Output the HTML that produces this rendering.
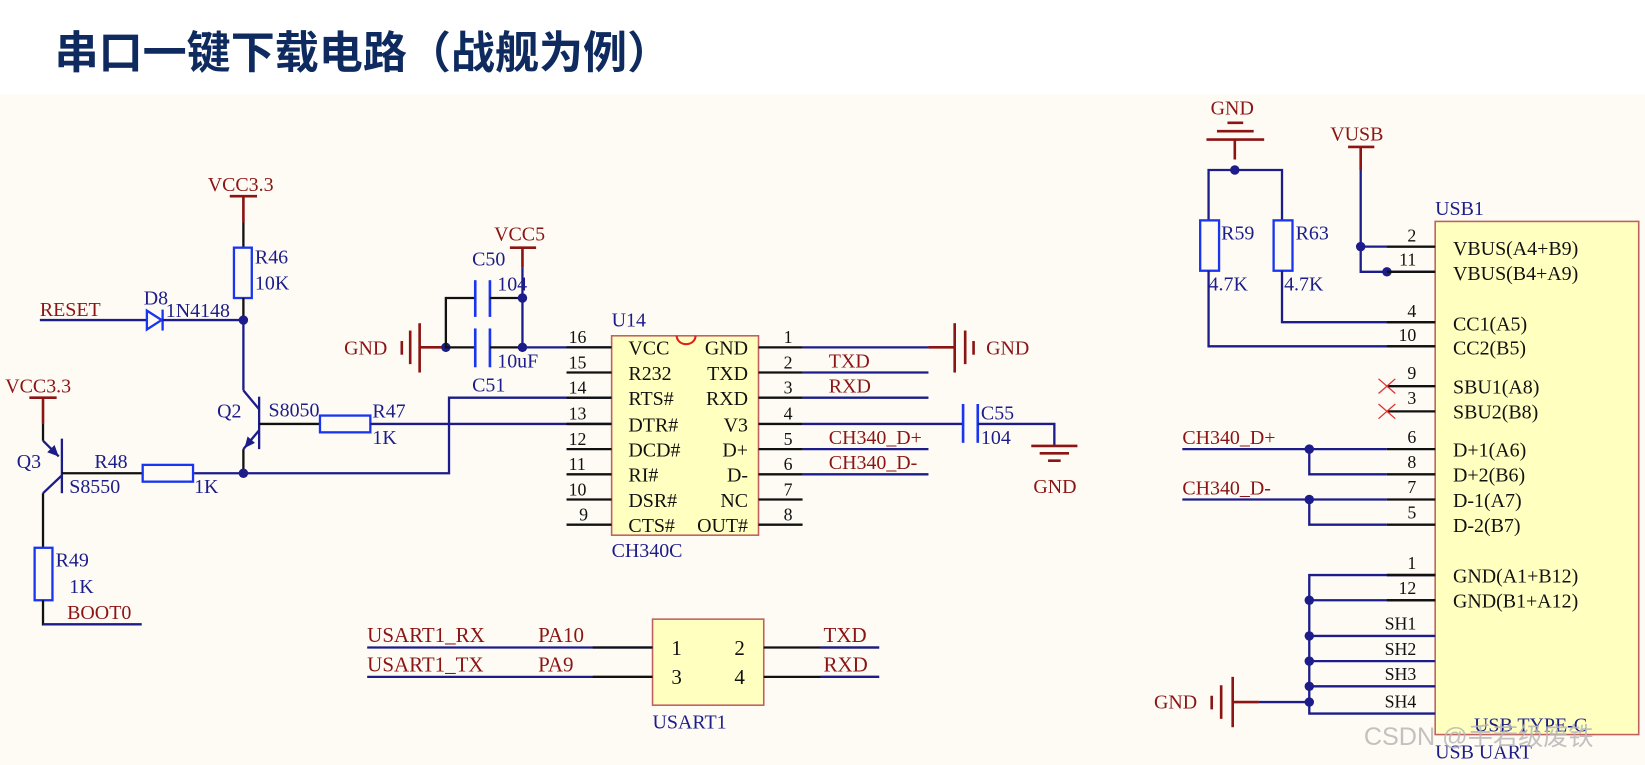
<!DOCTYPE html>
<html><head><meta charset="utf-8"><style>
html,body{margin:0;padding:0;background:#fff;}
svg{display:block}
text{font-family:"Liberation Serif",serif;}
.n{fill:#1c1c8a;font-size:19px}
.r{fill:#8b1414;font-size:19px}
.k{fill:#111;font-size:19px}
.p{fill:#111;font-size:17px}
.w{stroke:#1c1c8a;stroke-width:2.2;fill:none}
.b{stroke:#111;stroke-width:2.2;fill:none}
.rd{stroke:#8b1414;stroke-width:2.5;fill:none}
.res{stroke:#1a35f0;stroke-width:2.2;fill:none}
.cap{stroke:#1a35f0;stroke-width:2.5}
.dot{fill:#1c1c8a}
</style></head><body>
<svg width="1645" height="765" viewBox="0 0 1568 729" preserveAspectRatio="none" xmlns="http://www.w3.org/2000/svg">
<rect x="0" y="0" width="1568" height="729" fill="#fff"/>
<rect x="0" y="90" width="1568" height="639" fill="#fefbf4"/>
<text x="52" y="65" style="font-family:'Liberation Sans','Noto Sans CJK SC',sans-serif;font-size:42px;font-weight:bold;fill:#0e2a5e">串口一键下载电路（战舰为例）</text>

<!-- VCC3.3 top / R46 -->
<text x="198" y="182" class="r">VCC3.3</text>
<line x1="219" y1="187" x2="245" y2="187" class="rd"/>
<line x1="232" y1="187" x2="232" y2="212" class="rd"/>
<line x1="232" y1="212" x2="232" y2="235" class="b"/>
<rect x="223" y="236" width="17" height="48" class="res"/>
<text x="243" y="251" class="n">R46</text><text x="243" y="276" class="n">10K</text>
<line x1="232" y1="284" x2="232" y2="305" class="b"/>
<!-- RESET / D8 -->
<text x="38" y="301" class="r">RESET</text>
<line x1="38" y1="305" x2="140" y2="305" class="w"/>
<polygon points="140,296 154,305 140,314" fill="none" stroke="#1a35f0" stroke-width="2.2"/>
<line x1="155" y1="295" x2="155" y2="315" stroke="#1a35f0" stroke-width="2.2"/>
<text x="137" y="290" class="n">D8</text><text x="158" y="302" class="n">1N4148</text>
<line x1="155" y1="305" x2="232" y2="305" class="w"/>
<circle cx="232" cy="305" r="4.5" class="dot"/>
<line x1="232" y1="305" x2="232" y2="372" class="w"/>
<!-- Q2 -->
<line x1="232" y1="372" x2="247" y2="390" class="w"/>
<line x1="247" y1="378" x2="247" y2="428" class="w" stroke-width="2.5"/>
<line x1="247" y1="410" x2="232" y2="428" class="w"/>
<polygon points="233,427 236,416 243,422" class="dot"/>
<line x1="232" y1="428" x2="232" y2="451" class="b"/>
<text x="207" y="398" class="n">Q2</text><text x="256" y="397" class="n">S8050</text>
<line x1="247" y1="404" x2="305" y2="404" class="b"/>
<rect x="305" y="396" width="48" height="16" class="res"/>
<text x="355" y="398" class="n">R47</text><text x="355" y="423" class="n">1K</text>
<line x1="353" y1="404" x2="585" y2="404" class="w"/>
<circle cx="232" cy="451" r="4.5" class="dot"/>
<polyline points="185,451 428,451 428,379 585,379" class="w"/>
<!-- Q3 -->
<text x="5" y="374" class="r">VCC3.3</text>
<line x1="28" y1="379" x2="54" y2="379" class="rd"/>
<line x1="41" y1="379" x2="41" y2="404" class="rd"/>
<line x1="41" y1="404" x2="41" y2="420" class="b"/>
<line x1="41" y1="420" x2="56" y2="435" class="w"/>
<polygon points="56,435 45,431 52,424" class="dot"/>
<line x1="59" y1="418" x2="59" y2="470" class="w" stroke-width="2.5"/>
<line x1="59" y1="453" x2="41" y2="470" class="w"/>
<line x1="41" y1="470" x2="41" y2="522" class="b"/>
<text x="16" y="446" class="n">Q3</text><text x="66" y="470" class="n">S8550</text>
<line x1="59" y1="451" x2="136" y2="451" class="b"/>
<rect x="136" y="443" width="48" height="16" class="res"/>
<text x="90" y="446" class="n">R48</text><text x="185" y="470" class="n">1K</text>
<rect x="33" y="522" width="17" height="50" class="res"/>
<text x="53" y="540" class="n">R49</text><text x="66" y="565" class="n">1K</text>
<polyline points="41,572 41,595 135,595" class="b"/>
<line x1="41" y1="595" x2="135" y2="595" class="w"/>
<text x="64" y="590" class="r">BOOT0</text>

<!-- C50 / C51 -->
<text x="328" y="338" class="r">GND</text>
<line x1="383" y1="325" x2="383" y2="338" class="rd"/>
<line x1="391" y1="315" x2="391" y2="347" class="rd"/>
<line x1="400" y1="308" x2="400" y2="355" class="rd"/>
<line x1="400" y1="331" x2="425" y2="331" class="rd"/>
<circle cx="425" cy="331" r="4.5" class="dot"/>
<polyline points="453,284 425,284 425,331 453,331" class="b"/>
<line x1="453" y1="267" x2="453" y2="302" class="cap"/><line x1="467" y1="267" x2="467" y2="302" class="cap"/>
<line x1="453" y1="313" x2="453" y2="350" class="cap"/><line x1="467" y1="313" x2="467" y2="350" class="cap"/>
<line x1="467" y1="284" x2="498" y2="284" class="b"/>
<line x1="467" y1="331" x2="498" y2="331" class="b"/>
<circle cx="498" cy="284" r="4.5" class="dot"/><circle cx="498" cy="331" r="4.5" class="dot"/>
<text x="471" y="229" class="r">VCC5</text>
<line x1="486" y1="236" x2="511" y2="236" class="rd"/>
<line x1="498" y1="236" x2="498" y2="255" class="rd"/>
<line x1="498" y1="255" x2="498" y2="331" class="w"/>
<line x1="498" y1="331" x2="585" y2="331" class="w"/>
<text x="450" y="253" class="n">C50</text><text x="474" y="277" class="n">104</text>
<text x="474" y="350" class="n">10uF</text><text x="450" y="373" class="n">C51</text>

<!-- CH340C -->
<rect x="583" y="320" width="140" height="190" fill="#ffffc0" stroke="#c06060" stroke-width="1.5"/>
<path d="M645,320 A9,8 0 0 0 663,320" fill="none" stroke="#e02020" stroke-width="2"/>
<text x="583" y="311" class="n">U14</text>
<text x="583" y="531" class="n">CH340C</text>
<g class="b">
<line x1="540" y1="331" x2="583" y2="331"/><line x1="540" y1="355" x2="583" y2="355"/><line x1="540" y1="379" x2="583" y2="379"/><line x1="540" y1="404" x2="583" y2="404"/><line x1="540" y1="428" x2="583" y2="428"/><line x1="540" y1="452" x2="583" y2="452"/><line x1="540" y1="476" x2="583" y2="476"/><line x1="540" y1="500" x2="583" y2="500"/>
<line x1="723" y1="331" x2="765" y2="331"/><line x1="723" y1="355" x2="765" y2="355"/><line x1="723" y1="379" x2="765" y2="379"/><line x1="723" y1="404" x2="765" y2="404"/><line x1="723" y1="428" x2="765" y2="428"/><line x1="723" y1="452" x2="765" y2="452"/><line x1="723" y1="476" x2="765" y2="476"/><line x1="723" y1="500" x2="765" y2="500"/>
</g>
<g class="p">
<text x="542" y="327">16</text><text x="542" y="351">15</text><text x="542" y="375">14</text><text x="542" y="400">13</text><text x="542" y="424">12</text><text x="542" y="448">11</text><text x="542" y="472">10</text><text x="552" y="496">9</text>
<text x="747" y="327">1</text><text x="747" y="351">2</text><text x="747" y="375">3</text><text x="747" y="400">4</text><text x="747" y="424">5</text><text x="747" y="448">6</text><text x="747" y="472">7</text><text x="747" y="496">8</text>
</g>
<g class="k">
<text x="599" y="338">VCC</text><text x="599" y="362">R232</text><text x="599" y="386">RTS#</text><text x="599" y="411">DTR#</text><text x="599" y="435">DCD#</text><text x="599" y="459">RI#</text><text x="599" y="483">DSR#</text><text x="599" y="507">CTS#</text>
<g text-anchor="end"><text x="713" y="338">GND</text><text x="713" y="362">TXD</text><text x="713" y="386">RXD</text><text x="713" y="411">V3</text><text x="713" y="435">D+</text><text x="713" y="459">D-</text><text x="713" y="483">NC</text><text x="713" y="507">OUT#</text></g>
</g>
<line x1="765" y1="331" x2="885" y2="331" class="w"/>
<line x1="885" y1="331" x2="910" y2="331" class="rd"/>
<line x1="910" y1="308" x2="910" y2="355" class="rd"/><line x1="920" y1="315" x2="920" y2="347" class="rd"/><line x1="928" y1="325" x2="928" y2="338" class="rd"/>
<text x="940" y="338" class="r">GND</text>
<line x1="765" y1="355" x2="885" y2="355" class="w"/><text x="790" y="350" class="r">TXD</text>
<line x1="765" y1="379" x2="885" y2="379" class="w"/><text x="790" y="374" class="r">RXD</text>
<line x1="765" y1="404" x2="918" y2="404" class="w"/>
<line x1="918" y1="385" x2="918" y2="422" class="cap"/><line x1="932" y1="385" x2="932" y2="422" class="cap"/>
<polyline points="932,404 1005,404 1005,425" class="w"/>
<text x="935" y="400" class="n">C55</text><text x="935" y="423" class="n">104</text>
<line x1="983" y1="425" x2="1027" y2="425" class="rd"/><line x1="991" y1="432" x2="1019" y2="432" class="rd"/><line x1="999" y1="439" x2="1011" y2="439" class="rd"/>
<text x="985" y="470" class="r">GND</text>
<line x1="765" y1="428" x2="885" y2="428" class="w"/><text x="790" y="423" class="r">CH340_D+</text>
<line x1="765" y1="452" x2="885" y2="452" class="w"/><text x="790" y="447" class="r">CH340_D-</text>

<!-- USART1 -->
<rect x="622" y="590" width="106" height="82" fill="#ffffc0" stroke="#c06060" stroke-width="1.5"/>
<g class="k" style="font-size:20px"><text x="640" y="624">1</text><text x="700" y="624">2</text><text x="640" y="652">3</text><text x="700" y="652">4</text></g>
<line x1="350" y1="617" x2="622" y2="617" class="w"/><line x1="565" y1="617" x2="622" y2="617" class="b"/>
<line x1="350" y1="645" x2="622" y2="645" class="w"/><line x1="565" y1="645" x2="622" y2="645" class="b"/>
<line x1="728" y1="617" x2="838" y2="617" class="b"/><line x1="782" y1="617" x2="838" y2="617" class="w"/>
<line x1="728" y1="645" x2="838" y2="645" class="b"/><line x1="782" y1="645" x2="838" y2="645" class="w"/>
<g class="r" style="font-size:20px"><text x="350" y="612">USART1_RX</text><text x="513" y="612">PA10</text><text x="350" y="640">USART1_TX</text><text x="513" y="640">PA9</text><text x="785" y="612">TXD</text><text x="785" y="640">RXD</text></g>
<text x="622" y="694" class="n">USART1</text>

<!-- USB side -->
<text x="1154" y="109" class="r">GND</text>
<line x1="1170" y1="117" x2="1185" y2="117" class="rd"/><line x1="1160" y1="125" x2="1195" y2="125" class="rd"/><line x1="1150" y1="133" x2="1205" y2="133" class="rd"/>
<line x1="1177" y1="133" x2="1177" y2="152" class="rd"/>
<polyline points="1152,210 1152,162 1222,162 1222,210" class="w"/>
<circle cx="1177" cy="162" r="4.5" class="dot"/>
<rect x="1144" y="210" width="18" height="48" class="res"/>
<rect x="1214" y="210" width="18" height="48" class="res"/>
<text x="1164" y="228" class="n">R59</text><text x="1152" y="277" class="n">4.7K</text>
<text x="1235" y="228" class="n">R63</text><text x="1224" y="277" class="n">4.7K</text>
<polyline points="1222,258 1222,307 1368,307" class="w"/>
<polyline points="1152,258 1152,330 1368,330" class="w"/>
<text x="1268" y="134" class="r">VUSB</text>
<line x1="1285" y1="140" x2="1310" y2="140" class="rd"/>
<line x1="1297" y1="140" x2="1297" y2="162" class="rd"/>
<polyline points="1368,235 1297,235 1297,162" class="w"/>
<polyline points="1297,235 1297,259 1368,259" class="w"/>
<circle cx="1297" cy="235" r="4.5" class="dot"/><circle cx="1322" cy="259" r="4.5" class="dot"/>
<rect x="1368" y="211" width="194" height="489" fill="#ffffc0" stroke="#c06060" stroke-width="1.5"/>
<text x="1368" y="205" class="n">USB1</text>
<g class="b">
<line x1="1322" y1="235" x2="1368" y2="235"/><line x1="1322" y1="259" x2="1368" y2="259"/><line x1="1322" y1="307" x2="1368" y2="307"/><line x1="1322" y1="330" x2="1368" y2="330"/><line x1="1322" y1="368" x2="1368" y2="368"/><line x1="1322" y1="392" x2="1368" y2="392"/><line x1="1322" y1="428" x2="1368" y2="428"/><line x1="1322" y1="452" x2="1368" y2="452"/><line x1="1322" y1="476" x2="1368" y2="476"/><line x1="1322" y1="500" x2="1368" y2="500"/><line x1="1322" y1="548" x2="1368" y2="548"/><line x1="1322" y1="572" x2="1368" y2="572"/>
</g>
<g stroke="#e03030" stroke-width="1.2"><line x1="1314" y1="361" x2="1330" y2="375"/><line x1="1314" y1="375" x2="1330" y2="361"/><line x1="1314" y1="385" x2="1330" y2="399"/><line x1="1314" y1="399" x2="1330" y2="385"/></g>
<g class="p" text-anchor="end">
<text x="1350" y="230">2</text><text x="1350" y="253">11</text><text x="1350" y="302">4</text><text x="1350" y="325">10</text><text x="1350" y="361">9</text><text x="1350" y="385">3</text><text x="1350" y="422">6</text><text x="1350" y="446">8</text><text x="1350" y="470">7</text><text x="1350" y="494">5</text><text x="1350" y="542">1</text><text x="1350" y="566">12</text><text x="1350" y="600">SH1</text><text x="1350" y="624">SH2</text><text x="1350" y="648">SH3</text><text x="1350" y="674">SH4</text>
</g>
<g class="k">
<text x="1385" y="243">VBUS(A4+B9)</text><text x="1385" y="267">VBUS(B4+A9)</text><text x="1385" y="315">CC1(A5)</text><text x="1385" y="338">CC2(B5)</text><text x="1385" y="375">SBU1(A8)</text><text x="1385" y="399">SBU2(B8)</text><text x="1385" y="435">D+1(A6)</text><text x="1385" y="459">D+2(B6)</text><text x="1385" y="483">D-1(A7)</text><text x="1385" y="507">D-2(B7)</text><text x="1385" y="555">GND(A1+B12)</text><text x="1385" y="579">GND(B1+A12)</text>
</g>
<text x="1127" y="423" class="r">CH340_D+</text>
<line x1="1127" y1="428" x2="1322" y2="428" class="w"/>
<polyline points="1248,428 1248,452 1322,452" class="w"/>
<circle cx="1248" cy="428" r="4.5" class="dot"/>
<text x="1127" y="471" class="r">CH340_D-</text>
<line x1="1127" y1="476" x2="1322" y2="476" class="w"/>
<polyline points="1248,476 1248,500 1322,500" class="w"/>
<circle cx="1248" cy="476" r="4.5" class="dot"/>
<polyline points="1368,548 1248,548 1248,680 1368,680" class="w"/>
<line x1="1248" y1="572" x2="1368" y2="572" class="w"/>
<line x1="1248" y1="606" x2="1368" y2="606" class="w"/>
<line x1="1248" y1="630" x2="1368" y2="630" class="w"/>
<line x1="1248" y1="654" x2="1368" y2="654" class="w"/>
<line x1="1322" y1="548" x2="1368" y2="548" class="b"/><line x1="1322" y1="572" x2="1368" y2="572" class="b"/>
<circle cx="1248" cy="572" r="4.5" class="dot"/><circle cx="1248" cy="606" r="4.5" class="dot"/><circle cx="1248" cy="630" r="4.5" class="dot"/><circle cx="1248" cy="654" r="4.5" class="dot"/><circle cx="1248" cy="669" r="4.5" class="dot"/>
<text x="1100" y="675" class="r">GND</text>
<line x1="1155" y1="663" x2="1155" y2="676" class="rd"/><line x1="1164" y1="653" x2="1164" y2="685" class="rd"/><line x1="1175" y1="645" x2="1175" y2="693" class="rd"/>
<line x1="1175" y1="669" x2="1200" y2="669" class="rd"/>
<line x1="1200" y1="669" x2="1248" y2="669" class="w"/>
<text x="1405" y="697" class="n">USB TYPE-C</text>
<text x="1368" y="723" class="n">USB UART</text>
<text x="1300" y="710" style="font-family:'Liberation Sans','Noto Sans CJK SC',sans-serif;font-size:24px;fill:#b8b8b8;opacity:0.85">CSDN @手若级废铁</text>
</svg>
</body></html>
